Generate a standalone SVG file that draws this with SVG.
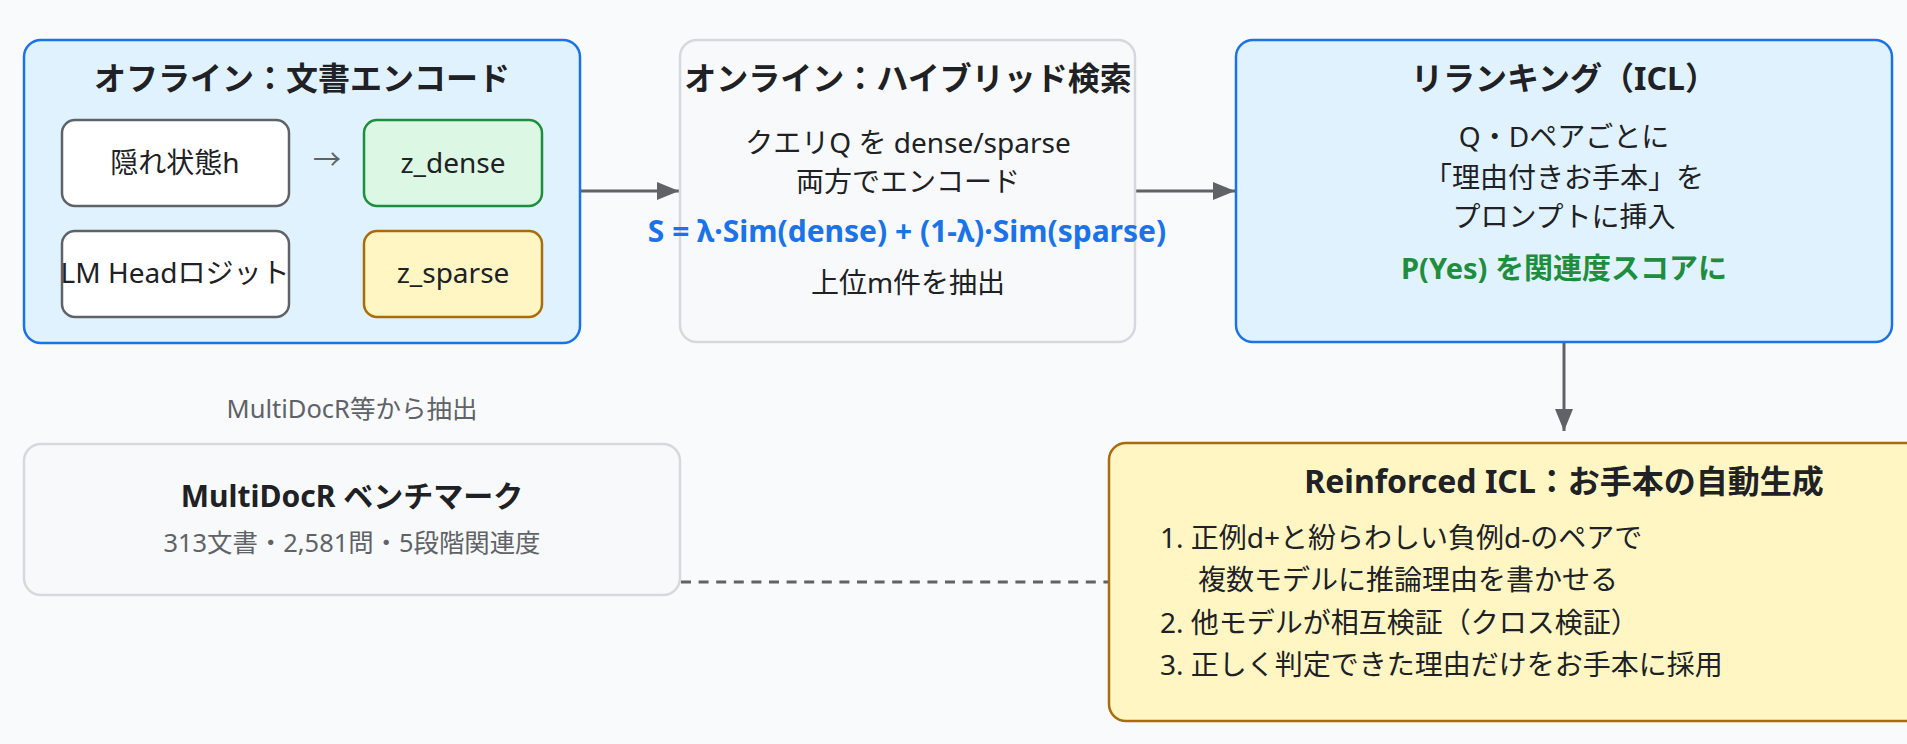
<svg xmlns="http://www.w3.org/2000/svg" width="1907" height="744" viewBox="0 0 1907 744">
  <defs>
    <marker id="ah" viewBox="0 0 22 18" refX="22" refY="9" markerWidth="22" markerHeight="18" markerUnits="userSpaceOnUse" orient="auto">
      <path d="M0,0 L22,9 L0,18 Z" fill="#5f6368"/>
    </marker>
    <style>
      text { font-family: "Noto Sans", "Noto Sans CJK JP", sans-serif; fill: #202124; }
      .title { font-size: 32px; font-weight: bold; text-anchor: middle; }
      .body { font-size: 28px; text-anchor: middle; }
      .list { font-size: 28px; }
      .blue { fill: #e0f2fe; stroke: #1a73e8; stroke-width: 2.5; }
      .gray { fill: #f8f9fa; stroke: #d5d9de; stroke-width: 2.5; }
      .yellow { fill: #fff6c4; stroke: #a86d0a; stroke-width: 2.5; }
      .inner { fill: #ffffff; stroke: #5f6368; stroke-width: 2.5; }
      .green { fill: #dcf7e3; stroke: #1e8e3e; stroke-width: 2.5; }
      .conn { stroke: #5f6368; stroke-width: 3; fill: none; }
    </style>
  </defs>
  <rect width="1907" height="744" fill="#f9fafb"/>

  <g id="connectors">
    <line class="conn" x1="580" y1="191" x2="679" y2="191" marker-end="url(#ah)"/>
    <line class="conn" x1="1135" y1="191" x2="1235" y2="191" marker-end="url(#ah)"/>
    <line class="conn" x1="1564" y1="343" x2="1564" y2="431" marker-end="url(#ah)"/>
    <line class="conn" x1="681" y1="582" x2="1109" y2="582" stroke-dasharray="10 7.6"/>
    <text x="352" y="418" font-size="25.5" text-anchor="middle" style="fill:#5f6368">MultiDocR等から抽出</text>
  </g>

  <g id="offline">
    <rect class="blue" x="24" y="40" width="556" height="303" rx="17"/>
    <text class="title" x="302" y="90">オフライン：文書エンコード</text>
    <g id="hidden">
      <rect class="inner" x="62" y="120" width="227" height="86" rx="13"/>
      <text class="body" x="175" y="173">隠れ状態h</text>
    </g>
    <text x="327" y="170" font-size="28" text-anchor="middle" style="fill:#5f6368">→</text>
    <g id="zdense">
      <rect class="green" x="364" y="120" width="178" height="86" rx="13"/>
      <text class="body" x="453" y="173">z_dense</text>
    </g>
    <g id="lmhead">
      <rect class="inner" x="62" y="231" width="227" height="86" rx="13"/>
      <text class="body" x="175" y="283">LM Headロジット</text>
    </g>
    <g id="zsparse">
      <rect class="yellow" x="364" y="231" width="178" height="86" rx="13"/>
      <text class="body" x="453" y="283">z_sparse</text>
    </g>
  </g>

  <g id="online">
    <rect class="gray" x="680" y="40" width="455" height="302" rx="17"/>
    <text class="title" x="908" y="90">オンライン：ハイブリッド検索</text>
    <text class="body" x="908" y="153">クエリQ を dense/sparse</text>
    <text class="body" x="908" y="192">両方でエンコード</text>
    <text x="907" y="242" font-size="30" font-weight="bold" text-anchor="middle" style="fill:#1a73e8">S = λ·Sim(dense) + (1-λ)·Sim(sparse)</text>
    <text class="body" x="908" y="293">上位m件を抽出</text>
  </g>

  <g id="rerank">
    <rect class="blue" x="1236" y="40" width="656" height="302" rx="17"/>
    <text class="title" x="1564" y="90">リランキング（ICL）</text>
    <text class="body" x="1564" y="147">Q・Dペアごとに</text>
    <text class="body" x="1564" y="188">「理由付きお手本」を</text>
    <text class="body" x="1564" y="227">プロンプトに挿入</text>
    <text x="1564" y="279" font-size="29" font-weight="bold" text-anchor="middle" style="fill:#1e8e3e">P(Yes) を関連度スコアに</text>
  </g>

  <g id="benchmark">
    <rect class="gray" x="24" y="444" width="656" height="151" rx="17"/>
    <text x="352" y="507" font-size="30" font-weight="bold" text-anchor="middle">MultiDocR ベンチマーク</text>
    <text x="352" y="552" font-size="25.4" text-anchor="middle" style="fill:#5f6368">313文書・2,581問・5段階関連度</text>
  </g>

  <g id="reinforced">
    <rect class="yellow" x="1109" y="443" width="910" height="278" rx="17"/>
    <text class="title" x="1564" y="493">Reinforced ICL：お手本の自動生成</text>
    <text class="list" x="1160" y="548">1. 正例d+と紛らわしい負例d-のペアで</text>
    <text class="list" x="1198" y="590">複数モデルに推論理由を書かせる</text>
    <text class="list" x="1160" y="633">2. 他モデルが相互検証（クロス検証）</text>
    <text class="list" x="1160" y="675">3. 正しく判定できた理由だけをお手本に採用</text>
  </g>
</svg>
